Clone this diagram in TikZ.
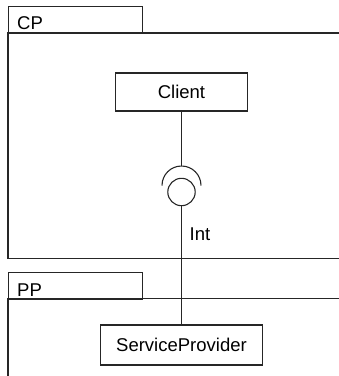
\documentclass[tikz,border=0pt]{standalone}
\usepackage{fontspec}
\setmainfont{Liberation Sans}
\begin{document}
\begin{tikzpicture}[x=1pt,y=-1pt,
  line/.style={draw=black!85,line width=1.1pt},
  classbox/.style={line,rectangle,inner sep=0pt},
  tablabel/.style={anchor=base west,inner sep=0pt},
  every node/.style={font=\fontsize{18.5}{22}\selectfont}]
\useasboundingbox (0,0) rectangle (339,376);
% CP package
\node[classbox,minimum width=134pt,minimum height=27pt,anchor=north west] (cptab) at (8,6) {};
\node[tablabel] (cplabel) at (17,29.3) {CP};
\draw[line] (341,33) -- (8,33) -- (8,258.5) -- (341,258.5);
% PP package
\node[classbox,minimum width=134pt,minimum height=26.5pt,anchor=north west] (pptab) at (8,272) {};
\node[tablabel] (pplabel) at (17,296) {PP};
\draw[line] (341,298.5) -- (8,298.5) -- (8,378);
% classes
\node[classbox,minimum width=132pt,minimum height=38pt] (client) at (181.5,92) {Client};
\node[classbox,minimum width=162pt,minimum height=40pt] (sp) at (181.5,345) {ServiceProvider};
% interface
\coordinate (socktop) at (181.5,166);
\coordinate (sockleft) at (162,185.5);
\node[line,circle,minimum size=27.4pt,inner sep=0pt] (ball) at (181.5,192) {};
\draw[line] (client.south) -- (socktop);
\draw[line] (sockleft) arc[start angle=180,end angle=360,radius=19.5];
\draw[line] (ball.south) -- (sp.north);
\node[tablabel] (intlabel) at (189.5,240) {Int};
\end{tikzpicture}
\end{document}
